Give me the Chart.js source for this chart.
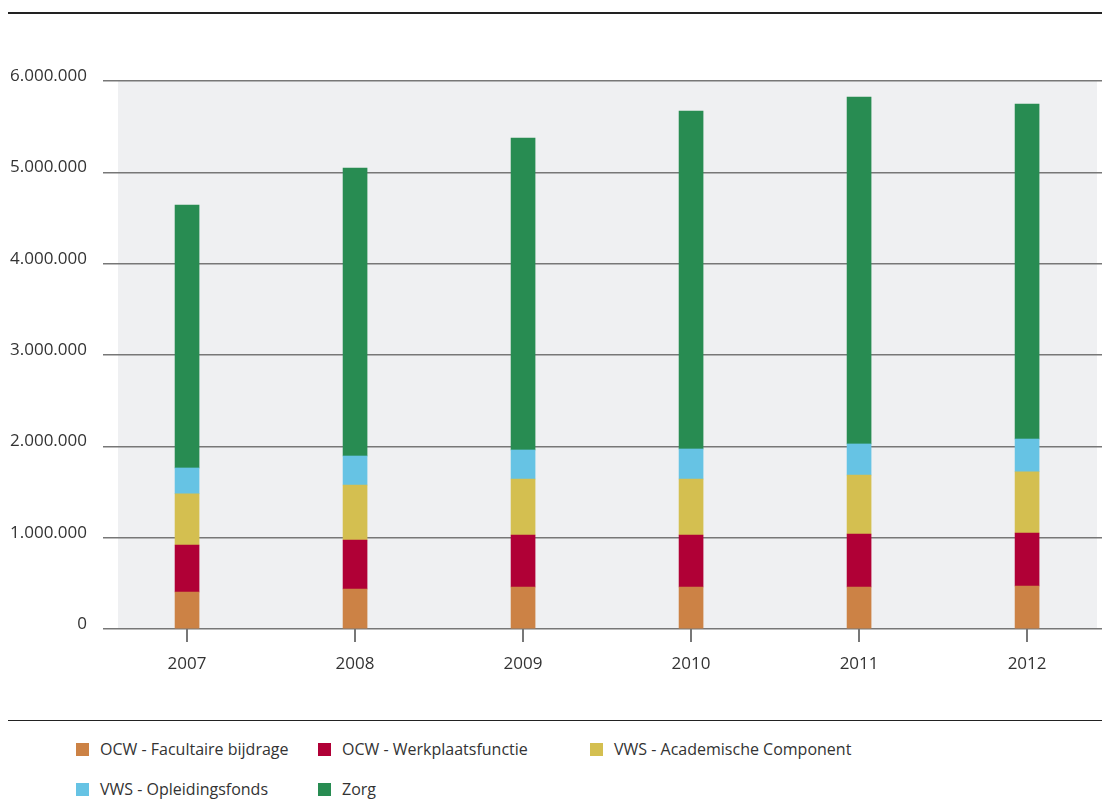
<!DOCTYPE html>
<html>
<head>
<meta charset="utf-8">
<script src="https://cdn.jsdelivr.net/npm/chart.js@4"></script>
<style>
	html, body { margin: 0; padding: 0; background: #fff; overflow: hidden; }
	body { width: 1102px; height: 800px; position: relative; font-family: "Open Sans", sans-serif; color: #333; }
	#wrap { position: absolute; left: 0; top: 0; width: 1102px; height: 700px; }
	.rule { position: absolute; left: 8px; right: 0; background: #222; }
	#legend { position: absolute; left: 76px; top: 738px; display: grid; grid-template-columns: 242px 272px auto; row-gap: 18px; font-size: 16px; }
	#legend div { display: flex; align-items: center; height: 22px; white-space: nowrap; }
	#legend span.box { display: inline-block; width: 13px; height: 13px; margin-right: 11px; }
</style>
</head>
<body>
<div class="rule" style="top:12px;height:2px"></div>
<div id="wrap"><canvas id="chart_zorg"></canvas></div>
<div class="rule" style="top:720px;height:1px"></div>
<div id="legend"></div>
<script>
var years = [2007, 2008, 2009, 2010, 2011, 2012];
var facultaire = [405000, 438000, 460000, 460000, 460000, 471000];
var werkplaats = [515000, 536000, 569000, 569000, 580000, 580000];
var academisch = [561000, 603000, 613000, 613000, 646000, 671000];
var opleiding = [282000, 317000, 318000, 329000, 340000, 358000];
var zorg = [2879000, 3153000, 3416000, 3701000, 3799000, 3668000];

var names = ['OCW - Facultaire bijdrage', 'OCW - Werkplaatsfunctie', 'VWS - Academische Component', 'VWS - Opleidingsfonds', 'Zorg'];
var colors = ['#cc8245', '#b00036', '#d4bf50', '#66c3e4', '#288c52'];
var series = [facultaire, werkplaats, academisch, opleiding, zorg];

function nl(v){
	return String(v).replace(/\B(?=(\d{3})+(?!\d))/g, '.');
}

var datasets = series.map(function(s, k){
	return {
		label: names[k],
		backgroundColor: colors[k],
		data: s.map(function(v, i){ return {x: years[i], y: v}; }),
		barThickness: 24,
		borderWidth: 0,
	};
});

// grijze achtergrond van het plotvlak
var plotBg = {
	id: 'plotBg',
	beforeDraw: function(chart){
		var a = chart.chartArea, c = chart.ctx;
		c.save();
		c.fillStyle = '#eff0f2';
		c.fillRect(a.left, a.top, a.right - a.left - 5, a.bottom - a.top);
		c.restore();
	}
};

Chart.defaults.font.family = '"Open Sans", sans-serif';
Chart.defaults.color = '#333';

var ctx = document.getElementById('chart_zorg').getContext('2d');
var chart = new Chart(ctx, {
	type: 'bar',
	data: { datasets: datasets },
	plugins: [plotBg],
	options: {
		responsive: true,
		maintainAspectRatio: false,
		animation: false,
		layout: { padding: { top: 81, right: 0, bottom: 31, left: 0 } },
		plugins: {
			legend: { display: false },
			tooltip: { enabled: false }
		},
		scales: {
			x: {
				type: 'linear',
				stacked: true,
				offset: false,
				min: 2006.589,
				max: 2012.446,
				afterFit: function(s){ s.height = 40; },
				border: { display: false },
				grid: { offset: false, drawOnChartArea: false, drawTicks: true, tickLength: 13, color: '#777', lineWidth: 2 },
				ticks: {
					stepSize: 1,
					includeBounds: false,
					padding: 12,
					font: { size: 17 },
					color: '#333',
					callback: function(v){ return String(v); }
				}
			},
			y: {
				stacked: true,
				min: 0,
				max: 6000000,
				afterFit: function(s){ s.width = 118; },
				border: { display: false },
				grid: { color: '#777', lineWidth: 1.5, tickLength: 15 },
				ticks: {
					stepSize: 1000000,
					padding: 16,
					labelOffset: -5,
					font: { size: 17 },
					color: '#333',
					callback: function(v){ return nl(v); }
				}
			}
		}
	}
});

var legend = document.getElementById('legend');
names.forEach(function(n, k){
	var d = document.createElement('div');
	d.innerHTML = '<span class="box" style="background:' + colors[k] + '"></span>' + n;
	legend.appendChild(d);
});
</script>
</body>
</html>
